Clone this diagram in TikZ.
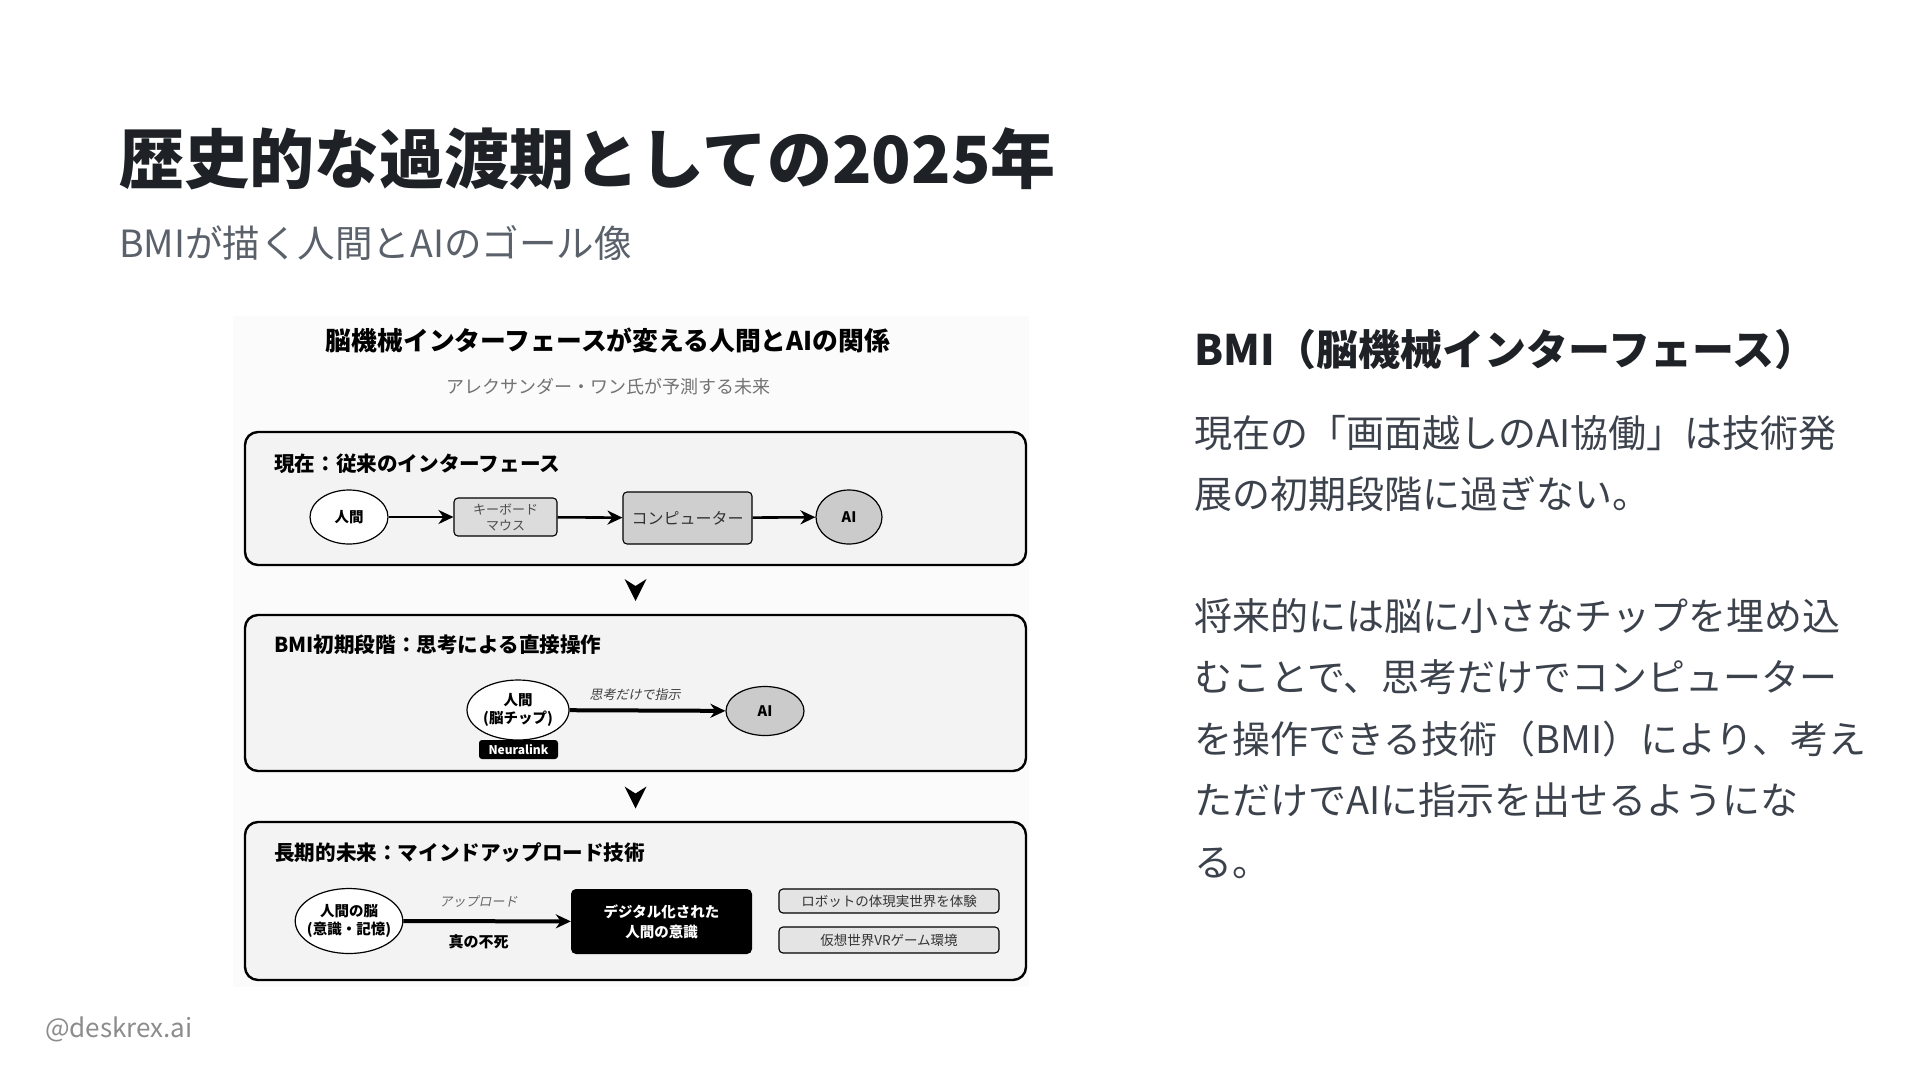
\documentclass[tikz,border=0pt]{standalone}
\usepackage{fontspec}
\setmainfont{Noto Sans CJK JP}[AutoFakeSlant=0.2]
\usepackage{tikz}
\usetikzlibrary{shapes.geometric,arrows.meta,calc}
\definecolor{titleink}{HTML}{1E2227}
\definecolor{subink}{HTML}{5A616B}
\definecolor{bodyink}{HTML}{3C424C}
\definecolor{markink}{HTML}{8C8C8C}
\definecolor{stagefill}{HTML}{F3F3F3}
\definecolor{keyfill}{HTML}{DCDCDC}
\definecolor{pcfill}{HTML}{CFCFCF}
\definecolor{aifill}{HTML}{CBCBCB}
\definecolor{envfill}{HTML}{E4E4E4}
\tikzset{
    stage-box/.style = {draw=black, fill=stagefill, line width=2.4pt, rectangle, rounded corners=13pt, minimum width=781pt, inner sep=0pt},
    stage-title/.style = {anchor=west, inner sep=0pt, font=\fontsize{20.6}{24}\selectfont\bfseries},
    person/.style = {draw=black, fill=white, ellipse, line width=1.2pt, inner sep=0pt, align=center, font=\fontsize{14.5}{18}\selectfont\bfseries},
    ai-circle/.style = {person, fill=aifill},
    gray-box/.style = {draw=black, rectangle, rounded corners=4pt, line width=1.1pt, inner sep=0pt, align=center},
    flow/.style = {line width=2.6pt, -{Stealth[length=15pt,width=14pt]}},
    note-label/.style = {font=\fontsize{13}{16}\selectfont\itshape, text=black!75},
    body-text/.style = {anchor=north west, inner sep=0pt, align=left, text=bodyink, font=\fontsize{38}{61.5}\selectfont},
}

\begin{document}
\begin{tikzpicture}[x=1pt,y=-1pt]
\useasboundingbox[fill=white] (0,0) rectangle (1920,1080);

\node[anchor=west, inner sep=0pt, text=titleink, font=\fontsize{65}{70}\selectfont\bfseries] (title) at (119,159) {歴史的な過渡期としての2025年};
\node[anchor=west, inner sep=0pt, text=subink, font=\fontsize{37.5}{42}\selectfont] (subtitle) at (119,243) {BMIが描く人間とAIのゴール像};

\fill[black!1.5] (233,316) rectangle (1029,987);
\node[font=\fontsize{25.8}{29}\selectfont\bfseries] (chart-title) at (608,340) {脳機械インターフェースが変える人間とAIの関係};
\node[font=\fontsize{18}{22}\selectfont, text=black!55] (chart-sub) at (608,387) {アレクサンダー・ワン氏が予測する未来};

\node[stage-box, minimum height=133pt] (box1) at (635.5,498.5) {};
\node[stage-title] (title1) at (274,464) {現在：従来のインターフェース};
\node[person, minimum width=78pt, minimum height=54pt] (human1) at (349,517) {人間};
\node[gray-box, fill=keyfill, minimum width=103pt, minimum height=38pt, font=\fontsize{13}{16}\selectfont, text=black!70] (keyboard) at (505.5,517) {キーボード\\マウス};
\node[gray-box, fill=pcfill, minimum width=129pt, minimum height=52pt, font=\fontsize{16}{19}\selectfont, text=black!80] (computer) at (687.5,518) {コンピューター};
\node[ai-circle, minimum width=66pt, minimum height=54pt] (ai1) at (849,517) {AI};
\draw[flow] (human1) -- (keyboard);
\draw[flow] (keyboard) -- (computer);
\draw[flow] (computer) -- (ai1);

\node[stage-box, minimum height=156pt] (box2) at (635.5,693) {};
\node[stage-title] (title2) at (274,645) {BMI初期段階：思考による直接操作};
\node[person, minimum width=102pt, minimum height=60pt, inner xsep=-3pt] (human2) at (518,710) {人間\\(脳チップ)};
\node[fill=black, rounded corners=3pt, minimum width=79pt, minimum height=19pt, inner sep=0pt, text=white, font=\fontsize{12}{14}\selectfont\bfseries] (neuralink) at (518.5,749.5) {Neuralink};
\node[ai-circle, minimum width=78pt, minimum height=49pt] (ai2) at (765,711) {AI};
\draw[flow, line width=4pt] (human2) -- node[pos=0.42, above=5pt, note-label] {思考だけで指示} (ai2);

\node[stage-box, minimum height=158pt] (box3) at (635.5,901) {};
\node[stage-title] (title3) at (274,853) {長期的未来：マインドアップロード技術};
\node[person, minimum width=106pt, minimum height=65pt, inner xsep=-4pt] (brain) at (349,921) {人間の脳\\(意識・記憶)};
\node[fill=black, rounded corners=5pt, minimum width=181pt, minimum height=65pt, inner sep=0pt, align=center, text=white, font=\fontsize{14.5}{20}\selectfont\bfseries] (digital) at (661.5,921.5) {デジタル化された\\人間の意識};
\draw[flow, line width=4pt] (brain) -- node[pos=0.45, above=8pt, note-label, text=black!60] {アップロード} node[pos=0.45, below=8pt, font=\fontsize{15}{18}\selectfont\bfseries] {真の不死} (digital);
\node[gray-box, fill=envfill, minimum width=220pt, minimum height=24pt, font=\fontsize{13.5}{16}\selectfont, text=black!80] (robot) at (889,901) {ロボットの体現実世界を体験};
\node[gray-box, fill=envfill, minimum width=220pt, minimum height=26pt, font=\fontsize{13.5}{16}\selectfont, text=black!80] (vr) at (889,940) {仮想世界VRゲーム環境};

\fill[black] ($(box1.south)!0.5!(box2.north)$) ++(0,11) -- ++(-11,-22) -- ++(11,7) -- ++(11,-7) -- cycle;
\fill[black] ($(box2.south)!0.5!(box3.north)$) ++(0,12) -- ++(-11,-22) -- ++(11,7) -- ++(11,-7) -- cycle;

\node[anchor=west, inner sep=0pt, text=titleink, font=\fontsize{42}{48}\selectfont\bfseries] (side-head) at (1194,350) {BMI（脳機械インターフェース）};
\node[body-text] (para1) at (1194,415) {現在の「画面越しのAI協働」は技術発\\展の初期段階に過ぎない。};
\node[body-text] (para2) at (1194,598) {将来的には脳に小さなチップを埋め込\\むことで、思考だけでコンピューター\\を操作できる技術（BMI）により、考え\\ただけでAIに指示を出せるようにな\\る。};

\node[anchor=west, inner sep=0pt, text=markink, font=\fontsize{26}{30}\selectfont] (mark) at (45,1029) {@deskrex.ai};
\end{tikzpicture}
\end{document}
